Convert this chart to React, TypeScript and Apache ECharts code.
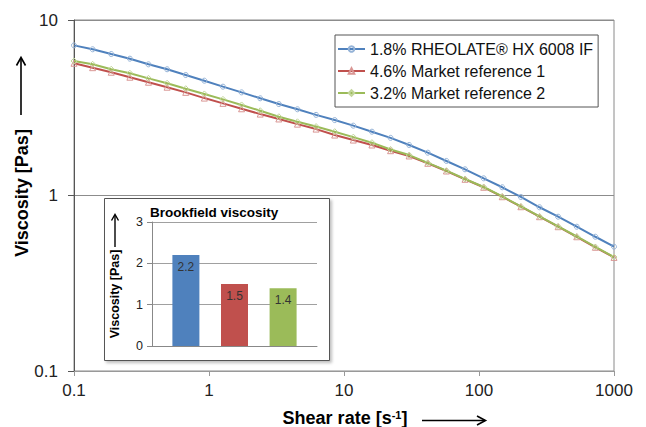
import React, { useEffect, useRef } from "react";
import * as echarts from "echarts";

const FONT = '"Liberation Sans", Arial, sans-serif';

// Shear rate [1/s]
const shearRate = [0.1, 0.1374, 0.1887, 0.2593, 0.3562, 0.4894, 0.6723, 0.9237, 1.269, 1.743, 2.395, 3.291, 4.52, 6.21, 8.532, 11.72, 16.1, 22.13, 30.39, 41.75, 57.36, 78.8, 108.3, 148.7, 204.3, 280.7, 385.6, 529.8, 727.9, 1000];

const seriesNames = ["1.8% RHEOLATE® HX 6008 IF", "4.6% Market reference 1", "3.2% Market reference 2"];

const rheolate = [7.17, 6.81, 6.4, 6.02, 5.59, 5.24, 4.86, 4.51, 4.17, 3.87, 3.58, 3.32, 3.1, 2.88, 2.69, 2.5, 2.31, 2.13, 1.94, 1.754, 1.573, 1.41, 1.253, 1.114, 0.981, 0.857, 0.757, 0.664, 0.582, 0.511];
const marketRef1 = [5.67, 5.35, 5.04, 4.72, 4.42, 4.14, 3.87, 3.59, 3.35, 3.12, 2.91, 2.73, 2.55, 2.39, 2.21, 2.07, 1.94, 1.8, 1.68, 1.526, 1.379, 1.237, 1.114, 0.984, 0.863, 0.757, 0.664, 0.582, 0.507, 0.444];
const marketRef2 = [5.84, 5.59, 5.24, 4.97, 4.65, 4.36, 4.06, 3.79, 3.53, 3.28, 3.04, 2.81, 2.63, 2.47, 2.31, 2.15, 2.0, 1.83, 1.7, 1.535, 1.385, 1.242, 1.118, 0.988, 0.866, 0.76, 0.666, 0.584, 0.509, 0.446];

const xTicks = ["0.1", "1", "10", "100", "1000"];
const yTicks = ["0.1", "1", "10"];

// Brookfield inset
const brookfieldNames = ["RHEOLATE", "Market reference 1", "Market reference 2"];
const brookfieldValues = [2.2, 1.5, 1.4];

const lineColors = ["#4F81BD", "#C0504D", "#9BBB59"];
const markerColors = ["#95B3D7", "#D99694", "#C3D69B"];
const symbols = ["circle", "triangle", "diamond"];
const barColors = ["#4F81BD", "#C0504D", "#9BBB59"];

const fmt = (v: number) => String(+Number(v).toPrecision(6));

export default function App() {
  const ref = useRef<HTMLDivElement>(null);
  useEffect(() => {
    if (!ref.current) return;
    const chart = echarts.init(ref.current, undefined, { renderer: "svg" });
    const curves = [rheolate, marketRef1, marketRef2];
    const lineSeries = curves.map((vals, k) => ({
      name: seriesNames[k],
      type: "line",
      xAxisIndex: 0,
      yAxisIndex: 0,
      data: shearRate.map((x, i) => [x, vals[i]]),
      symbol: symbols[k],
      symbolSize: k === 0 ? 5 : 6,
      showSymbol: true,
      lineStyle: { color: lineColors[k], width: 2 },
      itemStyle: { color: "rgba(255,255,255,0)", borderColor: markerColors[k], borderWidth: 1 },
      z: 2 + k,
    }));
    const barSeries = brookfieldValues.map((v, k) => ({
      name: brookfieldNames[k],
      type: "bar",
      xAxisIndex: 1,
      yAxisIndex: 1,
      data: [v],
      barWidth: 27,
      barGap: "80%",
      itemStyle: { color: barColors[k] },
      label: {
        show: true,
        position: "insideTop",
        distance: 6,
        fontSize: 12,
        fontFamily: FONT,
        color: "#333",
        formatter: (p: any) => Number(p.value).toFixed(1),
      },
      z: 12,
    }));

    const arrowStyle = { stroke: "#000", lineWidth: 1.6, fill: "none" };

    chart.setOption({
      animation: false,
      backgroundColor: "#fff",
      textStyle: { fontFamily: FONT },
      grid: [
        { left: 74, top: 20, width: 540, height: 351, show: true, borderColor: "#8a8a8a", borderWidth: 1, backgroundColor: "rgba(0,0,0,0)" },
        { left: 152, top: 222, width: 165, height: 124 },
      ],
      legend: {
        data: seriesNames,
        orient: "vertical",
        left: 335,
        top: 35,
        itemWidth: 27,
        itemHeight: 7,
        itemGap: 6,
        padding: [6, 5, 6, 2],
        borderColor: "#555",
        borderWidth: 1,
        backgroundColor: "#fff",
        textStyle: { fontSize: 16, color: "#111", fontFamily: FONT, lineHeight: 16 },
      },
      xAxis: [
        {
          type: "log",
          gridIndex: 0,
          logBase: 10,
          min: 0.1,
          max: 1000,
          axisLine: { show: true, lineStyle: { color: "#999" } },
          axisTick: { show: true, inside: false, length: 5, lineStyle: { color: "#999" } },
          minorTick: { show: false },
          splitLine: { show: false },
          axisLabel: {
            fontSize: 17,
            color: "#222",
            margin: 11,
            fontFamily: FONT,
            formatter: (v: number) => {
              const s = fmt(v);
              return xTicks.includes(s) ? s : "";
            },
          },
        },
        {
          type: "category",
          gridIndex: 1,
          data: ["Brookfield viscosity"],
          axisLine: { show: true, lineStyle: { color: "#888" } },
          axisTick: { show: false },
          axisLabel: { show: false },
          z: 12,
        },
      ],
      yAxis: [
        {
          type: "log",
          gridIndex: 0,
          logBase: 10,
          min: 0.1,
          max: 10,
          axisLine: { show: true, lineStyle: { color: "#555" } },
          axisTick: { show: true, inside: false, length: 6, lineStyle: { color: "#555" } },
          minorTick: { show: false },
          splitLine: { show: true, lineStyle: { color: "#8c8c8c", width: 1 } },
          axisLabel: {
            fontSize: 17,
            color: "#222",
            margin: 16,
            fontFamily: FONT,
            formatter: (v: number) => {
              const s = fmt(v);
              return yTicks.includes(s) ? s : "";
            },
          },
        },
        {
          type: "value",
          gridIndex: 1,
          min: 0,
          max: 3,
          interval: 1,
          axisLine: { show: true, lineStyle: { color: "#888" } },
          axisTick: { show: true, inside: false, length: 5, lineStyle: { color: "#888" } },
          splitLine: { show: true, lineStyle: { color: "#a0a0a0", width: 1 } },
          axisLabel: { fontSize: 12.5, color: "#222", margin: 9, fontFamily: FONT },
          z: 12,
        },
      ],
      graphic: [
        {
          type: "rect",
          shape: { x: 104.5, y: 198.5, width: 225, height: 162 },
          style: {
            fill: "#fff",
            stroke: "#555",
            lineWidth: 1,
            shadowBlur: 3,
            shadowOffsetX: 2,
            shadowOffsetY: 2,
            shadowColor: "rgba(0,0,0,0.25)",
          },
          z: 8,
        },
        {
          type: "text",
          x: 150,
          y: 212,
          style: {
            text: "Brookfield viscosity",
            fontSize: 13.5,
            fontWeight: "bold",
            fontFamily: FONT,
            fill: "#000",
            align: "left",
            verticalAlign: "middle",
          },
          z: 13,
        },
        // inset y title
        {
          type: "text",
          x: 115,
          y: 294,
          rotation: Math.PI / 2,
          style: {
            text: "Viscosity [Pas]",
            fontSize: 12.5,
            fontWeight: "bold",
            fontFamily: FONT,
            fill: "#000",
            align: "center",
            verticalAlign: "middle",
          },
          z: 13,
        },
        { type: "line", shape: { x1: 115, y1: 247, x2: 115, y2: 215 }, style: { stroke: "#000", lineWidth: 1.4 }, z: 13 },
        { type: "polyline", shape: { points: [[111.5, 220.5], [115, 214.5], [118.5, 220.5]] }, style: { ...arrowStyle, lineWidth: 1.4 }, z: 13 },
        // main y title
        {
          type: "text",
          x: 21.5,
          y: 193,
          rotation: Math.PI / 2,
          style: {
            text: "Viscosity [Pas]",
            fontSize: 18,
            fontWeight: "bold",
            fontFamily: FONT,
            fill: "#000",
            align: "center",
            verticalAlign: "middle",
          },
        },
        { type: "line", shape: { x1: 21, y1: 115, x2: 21, y2: 58 }, style: { stroke: "#000", lineWidth: 1.6 } },
        { type: "polyline", shape: { points: [[16.5, 65.5], [21, 57.5], [25.5, 65.5]] }, style: arrowStyle },
        // main x title
        {
          type: "text",
          x: 345,
          y: 418,
          style: {
            text: "Shear rate [s{sup|-1}]",
            fontSize: 18,
            fontWeight: "bold",
            fontFamily: FONT,
            fill: "#000",
            align: "center",
            verticalAlign: "middle",
            rich: {
              sup: { fontSize: 11, fontWeight: "bold", fontFamily: FONT, verticalAlign: "top", fill: "#000" },
            },
          },
        },
        { type: "line", shape: { x1: 422, y1: 420.5, x2: 485, y2: 420.5 }, style: { stroke: "#000", lineWidth: 1.6 } },
        { type: "polyline", shape: { points: [[477, 416], [485.5, 420.5], [477, 425]] }, style: arrowStyle },
      ],
      series: [...lineSeries, ...barSeries],
    });
    return () => chart.dispose();
  }, []);
  return <div ref={ref} style={{ width: 646, height: 427, position: "absolute", left: 0, top: 0 }} />;
}
